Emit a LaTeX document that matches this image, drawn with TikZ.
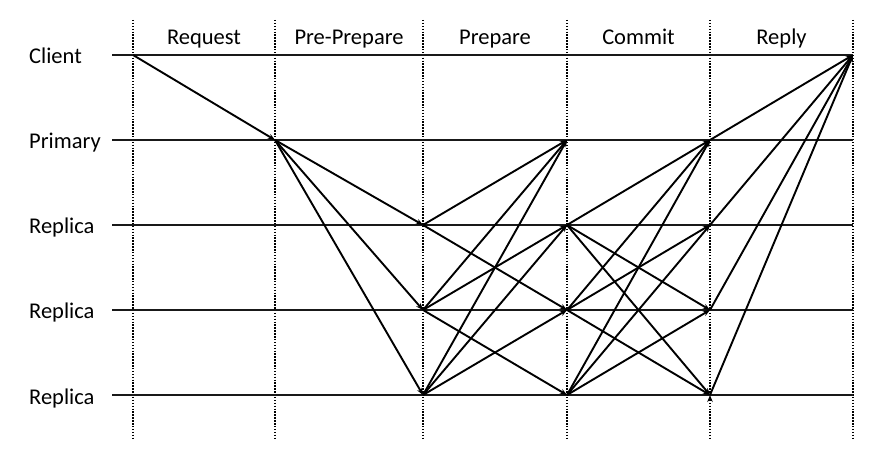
\documentclass[tikz,border=0pt]{standalone}
\usepackage{fontspec}
\setmainfont{Carlito}
\usetikzlibrary{arrows.meta}

\begin{document}
\begin{tikzpicture}[x=1pt,y=-1pt]
	\tikzset{role/.style={anchor=base west,inner sep=0pt,font=\fontsize{22.5}{27}\selectfont},
		phase/.style={anchor=base,inner sep=0pt,font=\fontsize{22.5}{27}\selectfont},
		timeline/.style={draw,line width=2.3pt,color=black!90},
		border/.style={draw,line width=1.8pt,dash pattern=on 1.5pt off 1.4pt},
		msg/.style={draw,line width=1.9pt,-{Stealth[length=7pt,width=5.5pt]}}}
	\useasboundingbox (0,0) rectangle (892,462);
	% phase borders
	\foreach \x [count=\i from 0] in {133,275,423,567,710,853} {
		\coordinate (top-\i) at (\x,20);
		\coordinate (bot-\i) at (\x,438);
		\path[border] (top-\i) -- (bot-\i);
	}
	% time lines
	\foreach \name/\y/\txt in {client/55/Client,primary/140/Primary,repa/225/Replica,repb/310/Replica,repc/395/Replica} {
		\node [role] (\name) at (29,\y+9) {\txt};
		\coordinate (\name-start) at (112,\y);
		\foreach \x [count=\i from 0] in {133,275,423,567,710,853}
			\coordinate (\name-\i) at (\x,\y);
		\path[timeline] (\name-start) -- (\name-5);
	}
	\node [phase] (request) at (204,45) {Request};
	\node [phase] (preprepare) at (349,45) {Pre-Prepare};
	\node [phase] (prepare) at (495,45) {Prepare};
	\node [phase] (commit) at (638.5,45) {Commit};
	\node [phase] (reply) at (781.5,45) {Reply};
	% messages
	\path[msg] (client-0) edge (primary-1)
		(primary-1) edge (repa-2) edge (repb-2) edge (repc-2)
		(repa-2) edge (primary-3) edge (repb-3)
		(repb-2) edge (primary-3) edge (repa-3) edge (repc-3)
		(repc-2) edge (primary-3) edge (repa-3) edge (repb-3)
		(repa-3) edge (primary-4) edge (repb-4) edge (repc-4)
		(repb-3) edge (primary-4) edge (repa-4) edge (repc-4)
		(repc-3) edge (primary-4) edge (repa-4) edge (repb-4)
		(primary-4) edge (client-5)
		(repa-4) edge (client-5)
		(repb-4) edge (client-5)
		(repc-4) edge (client-5);
\end{tikzpicture}
\end{document}
